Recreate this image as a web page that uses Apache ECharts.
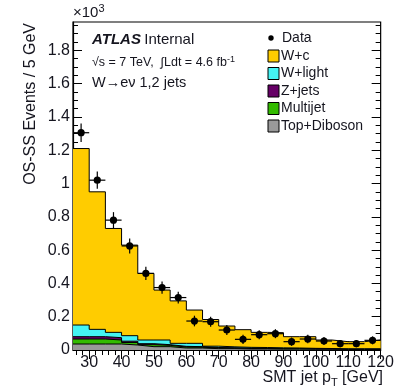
<!DOCTYPE html>
<html><head><meta charset="utf-8">
<script src="https://cdn.jsdelivr.net/npm/echarts@6/dist/echarts.min.js"></script>
<style>html,body{margin:0;padding:0;background:#fff}#c{width:397px;height:388px}</style>
</head><body><div id="c"></div>
<script>
// ---- data (values in units of 10^3 events / 5 GeV) ----
const binLow = [25,30,35,40,45,50,55,60,65,70,75,80,85,90,95,100,105,110,115];
const binWidth = 5;
const wc      = [1.060,0.826,0.624,0.544,0.400,0.300,0.255,0.200,0.160,0.125,0.106,0.091,0.091,0.068,0.070,0.051,0.043,0.043,0.053];
const wlight  = [0.070,0.044,0.032,0.033,0.022,0.028,0.018,0.020,0.008,0.006,0.005,0.005,0.004,0.004,0.003,0.003,0.002,0.002,0.002];
const zjets   = [0.014,0.014,0.014,0.008,0.006,0.004,0.004,0.003,0.003,0.002,0.002,0.002,0.002,0.001,0.001,0.001,0.001,0.001,0.001];
const multijet= [0.030,0.030,0.024,0.015,0.012,0.008,0.006,0.005,0.004,0.003,0.003,0.002,0.002,0.002,0.002,0.001,0.001,0.001,0.001];
const topdib  = [0.036,0.036,0.036,0.030,0.020,0.020,0.012,0.012,0.008,0.008,0.006,0.006,0.005,0.005,0.004,0.004,0.003,0.003,0.003];
const dataVal = [1.305,1.020,0.780,0.625,0.460,0.375,0.315,0.174,0.170,0.120,0.064,0.092,0.098,0.050,0.066,0.054,0.038,0.038,0.058];
const dataErr = [0.055,0.052,0.048,0.045,0.040,0.037,0.035,0.032,0.030,0.030,0.028,0.027,0.027,0.025,0.025,0.024,0.022,0.022,0.024];
const xLabels = [30,40,50,60,70,80,90,100,110,120];
const yLabels = [0,0.2,0.4,0.6,0.8,1,1.2,1.4,1.6,1.8];

const names  = ['W+c','W+light','Z+jets','Multijet','Top+Diboson'];
const colors = ['#FFCC00','#44F4F4','#660066','#33BB00','#999999'];
const comps  = [wc,wlight,zjets,multijet,topdib];

// cumulative stacks, drawn from top-most total downwards
const cum = [];
for (let k=0;k<comps.length;k++){
  cum.push(binLow.map((_,i)=>{let s=0;for(let j=k;j<comps.length;j++)s+=comps[j][i];return s;}));
}
const xMax = binLow[binLow.length-1]+binWidth;
function stepData(arr){const d=binLow.map((x,i)=>[x,arr[i]]);d.push([xMax,arr[arr.length-1]]);return d;}

const minorX=[];for(let v=26;v<120;v+=2){if(v%10!==0)minorX.push(v);}
const minorY=[];for(let i=1;i<40;i++){if(i%4!==0)minorY.push(+(i*0.05).toFixed(2));}

const font='Liberation Sans, Arial, sans-serif';
const txt='#15151f';
const ax = {min:25,max:120,type:'value',splitLine:{show:false}};
const ay = {min:0,max:1.97,type:'value',splitLine:{show:false}};

const series = cum.map((c,k)=>({
  type:'line', name:names[k], step:'end', data:stepData(c), symbol:'none',
  lineStyle:{color:'#000',width:1}, areaStyle:{color:colors[k],opacity:1},
  z:2+k, animation:false, silent:true
}));
series.push({
  type:'custom', name:'Data', z:20, animation:false,
  data: binLow.map((x,i)=>[x+binWidth/2,dataVal[i],dataErr[i]]),
  renderItem:function(params,api){
    const x=api.value(0),y=api.value(1),e=api.value(2);
    const c=api.coord([x,y]);
    const l=api.coord([x-binWidth/2,y]), r=api.coord([x+binWidth/2,y]);
    const t=api.coord([x,y+e]), b=api.coord([x,y-e]);
    const st={stroke:'#000',lineWidth:1.2};
    return {type:'group',children:[
      {type:'line',shape:{x1:l[0],y1:c[1],x2:r[0],y2:c[1]},style:st},
      {type:'line',shape:{x1:c[0],y1:t[1],x2:c[0],y2:b[1]},style:st},
      {type:'circle',shape:{cx:c[0],cy:c[1],r:3.6},style:{fill:'#000'}}
    ]};
  }
});

const leg = [['W+c',colors[0]],['W+light',colors[1]],['Z+jets',colors[2]],['Multijet',colors[3]],['Top+Diboson',colors[4]]];
const graphics = [
  {type:'circle',shape:{cx:271,cy:38,r:2.7},style:{fill:'#000'}},
  {type:'text',x:282,y:38,style:{text:'Data',font:'14px '+font,fill:txt,verticalAlign:'middle'}}
];
leg.forEach((l,i)=>{
  const cy=56+i*17.5;
  graphics.push({type:'rect',shape:{x:268,y:cy-6,width:11,height:12},style:{fill:l[1],stroke:'#000',lineWidth:1}});
  graphics.push({type:'text',x:281,y:cy,style:{text:l[0],font:'14px '+font,fill:txt,verticalAlign:'middle'}});
});
graphics.push(
  {type:'text',x:92,y:40,style:{rich:{a:{font:'bold italic 15px '+font,fill:txt},b:{font:'15px '+font,fill:txt}},text:'{a|ATLAS} {b|Internal}',verticalAlign:'middle'}},
  {type:'text',x:92,y:63,style:{rich:{a:{font:'12.5px '+font,fill:txt},s:{font:'9px '+font,fill:txt,padding:[0,0,7,0]}},text:'{a|√s = 7 TeV,  ∫Ldt = 4.6 fb}{s|-1}',verticalAlign:'middle'}},
  {type:'text',x:92,y:83,style:{text:'W→eν 1,2 jets',font:'14.5px '+font,fill:txt,verticalAlign:'middle'}},
  {type:'text',x:73,y:13,style:{rich:{a:{font:'15px '+font,fill:txt},s:{font:'11px '+font,fill:txt,padding:[0,0,8,0]}},text:'{a|×10}{s|3}',verticalAlign:'middle'}},
  {type:'text',x:31,y:23,rotation:Math.PI/2,style:{text:'OS-SS Events / 5 GeV',font:'16px '+font,fill:txt,align:'right',verticalAlign:'middle'}},
  {type:'text',x:383,y:378,style:{rich:{a:{font:'16px '+font,fill:txt},s:{font:'11px '+font,fill:txt,padding:[9,0,0,0]}},text:'{a|SMT jet p}{s|T}{a| [GeV]}',align:'right',verticalAlign:'middle'}}
);

const chart = echarts.init(document.getElementById('c'),null,{renderer:'canvas'});
chart.setOption({
  animation:false,
  grid:{left:73,right:14,top:22,bottom:38,show:true,borderColor:'#000',borderWidth:1.2,backgroundColor:'transparent'},
  xAxis:[
    Object.assign({},ax,{position:'bottom',axisLine:{show:true,lineStyle:{color:'#000',width:1.2}},
      axisTick:{show:true,inside:true,length:9,customValues:xLabels,lineStyle:{color:'#000'}},
      axisLabel:{customValues:xLabels,margin:5,fontSize:16,fontFamily:font,color:txt}}),
    Object.assign({},ax,{position:'bottom',axisLine:{show:false},
      axisTick:{show:true,inside:true,length:5,customValues:minorX,lineStyle:{color:'#000'}},axisLabel:{show:false}}),
    Object.assign({},ax,{position:'top',axisLine:{show:false},
      axisTick:{show:true,inside:true,length:9,customValues:xLabels,lineStyle:{color:'#000'}},axisLabel:{show:false}}),
    Object.assign({},ax,{position:'top',axisLine:{show:false},
      axisTick:{show:true,inside:true,length:5,customValues:minorX,lineStyle:{color:'#000'}},axisLabel:{show:false}})
  ],
  yAxis:[
    Object.assign({},ay,{position:'left',axisLine:{show:true,lineStyle:{color:'#000',width:1.2}},
      axisTick:{show:true,inside:true,length:9,customValues:yLabels,lineStyle:{color:'#000'}},
      axisLabel:{customValues:yLabels,margin:3,fontSize:16,fontFamily:font,color:txt,formatter:v=>String(+v.toFixed(1))}}),
    Object.assign({},ay,{position:'left',axisLine:{show:false},
      axisTick:{show:true,inside:true,length:5,customValues:minorY,lineStyle:{color:'#000'}},axisLabel:{show:false}}),
    Object.assign({},ay,{position:'right',axisLine:{show:false},
      axisTick:{show:true,inside:true,length:9,customValues:yLabels,lineStyle:{color:'#000'}},axisLabel:{show:false}}),
    Object.assign({},ay,{position:'right',axisLine:{show:false},
      axisTick:{show:true,inside:true,length:5,customValues:minorY,lineStyle:{color:'#000'}},axisLabel:{show:false}})
  ],
  series:series,
  graphic:graphics
});
</script></body></html>
